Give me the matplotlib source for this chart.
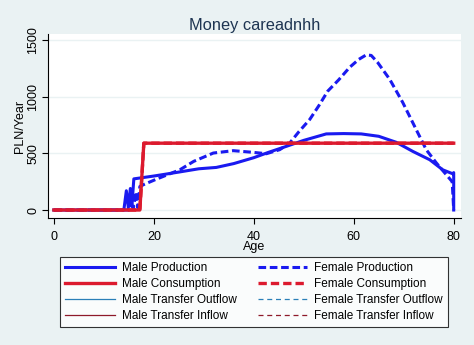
import matplotlib
matplotlib.use("Agg")
import matplotlib.pyplot as plt

# ---- data ----
male_prod_age = [0, 14, 14.5, 14.9, 15.3, 15.6, 16, 20, 25, 29, 32.5, 36, 40, 43, 46.5,
                 50, 54.5, 58, 61.5, 65, 68.5, 71.8, 75.2, 77.8, 79.8, 80, 80]
male_prod_val = [0, 0, 170, 20, 190, 30, 275, 300, 335, 364, 376, 410, 462, 510, 562,
                 615, 672, 675, 672, 651, 598, 518, 444, 355, 320, 330, 0]

fem_prod_age = [0, 15, 15.5, 15.9, 16.4, 16.8, 17.2, 18, 20.5, 25.2, 28, 31.9, 35.9, 39.9,
                42.5, 45.2, 47.2, 49, 51.2, 53, 54.8, 57, 59.2, 61, 62.5, 63.5, 64.8,
                67.2, 69.8, 72.5, 74.5, 76.5, 78.2, 79.7, 80]
fem_prod_val = [0, 0, 140, 10, 160, 20, 207, 225, 272, 355, 430, 503, 524, 509,
                497, 533, 592, 690, 800, 920, 1050, 1150, 1261, 1330, 1370, 1365, 1302,
                1154, 950, 710, 533, 417, 328, 250, 0]

cons_age = [0, 17.2, 18, 80]
male_cons_val = [0, 0, 590, 590]
fem_cons_val = [0, 0, 590, 590]

# transfers don't show up in the plot, legend only
male_out_age, male_out_val = [], []
fem_out_age, fem_out_val = [], []
male_in_age, male_in_val = [], []
fem_in_age, fem_in_val = [], []

xticks = [0, 20, 40, 60, 80]
yticks = [0, 500, 1000, 1500]

# ---- style ----
bg = "#EAF2F3"
blue = "#1A1AF0"
red = "#DC1A2E"
thin_blue = "#2A7FB8"
thin_red = "#8E1A2A"
navy = "#1E3552"
plt.rcParams["font.family"] = ["Liberation Sans", "DejaVu Sans"]

fig = plt.figure(figsize=(4.74, 3.45), dpi=100, facecolor=bg)
ax = fig.add_axes([0.101, 0.368, 0.872, 0.533])
ax.set_facecolor("white")

ax.plot(male_prod_age, male_prod_val, color=blue, lw=2.2, label="Male Production")
ax.plot(fem_prod_age, fem_prod_val, color=blue, lw=2.2, ls=(0, (2.5, 1.2)), label="Female Production")
ax.plot(cons_age, male_cons_val, color=red, lw=2.4, label="Male Consumption")
ax.plot(cons_age, fem_cons_val, color=red, lw=2.4, ls=(0, (2.5, 1.2)), label="Female Consumption")
ax.plot(male_out_age, male_out_val, color=thin_blue, lw=0.9, label="Male Transfer Outflow")
ax.plot(fem_out_age, fem_out_val, color=thin_blue, lw=0.9, ls=(0, (4, 3)), label="Female Transfer Outflow")
ax.plot(male_in_age, male_in_val, color=thin_red, lw=0.9, label="Male Transfer Inflow")
ax.plot(fem_in_age, fem_in_val, color=thin_red, lw=0.9, ls=(0, (4, 3)), label="Female Transfer Inflow")

ax.set_xlim(-1.2, 81.5)
ax.set_ylim(-71, 1553)
ax.set_xticks(xticks)
ax.set_yticks(yticks)
ax.set_yticklabels([str(v) for v in yticks], rotation=90, va="center")
ax.tick_params(axis="both", labelsize=9, color="black", length=4, width=0.8, pad=2)
ax.tick_params(axis="x", pad=5)
ax.yaxis.grid(True, color=bg, lw=1)
ax.set_axisbelow(True)
for s in ["top", "right"]:
    ax.spines[s].set_visible(False)
ax.spines["left"].set_linewidth(0.8)
ax.spines["bottom"].set_linewidth(0.8)

ax.set_xlabel("Age", fontsize=9, labelpad=-1)
ax.set_ylabel("PLN/Year", fontsize=9, labelpad=1)
ax.set_title("Money careadnhh", fontsize=11.8, color=navy, pad=3)

# legend order: male left column, female right column
h, l = ax.get_legend_handles_labels()
order = [0, 2, 4, 6, 1, 3, 5, 7]
leg = fig.legend([h[i] for i in order], [l[i] for i in order], ncol=2,
                 loc="center", bbox_to_anchor=(0.536, 0.154), fontsize=8.5,
                 frameon=True, fancybox=False, edgecolor="black", facecolor="white",
                 handlelength=4.2, columnspacing=1.8, labelspacing=0.35,
                 borderpad=0.4, handletextpad=0.6)
leg.get_frame().set_linewidth(0.8)

fig.savefig("out.png", dpi=100, facecolor=bg)
